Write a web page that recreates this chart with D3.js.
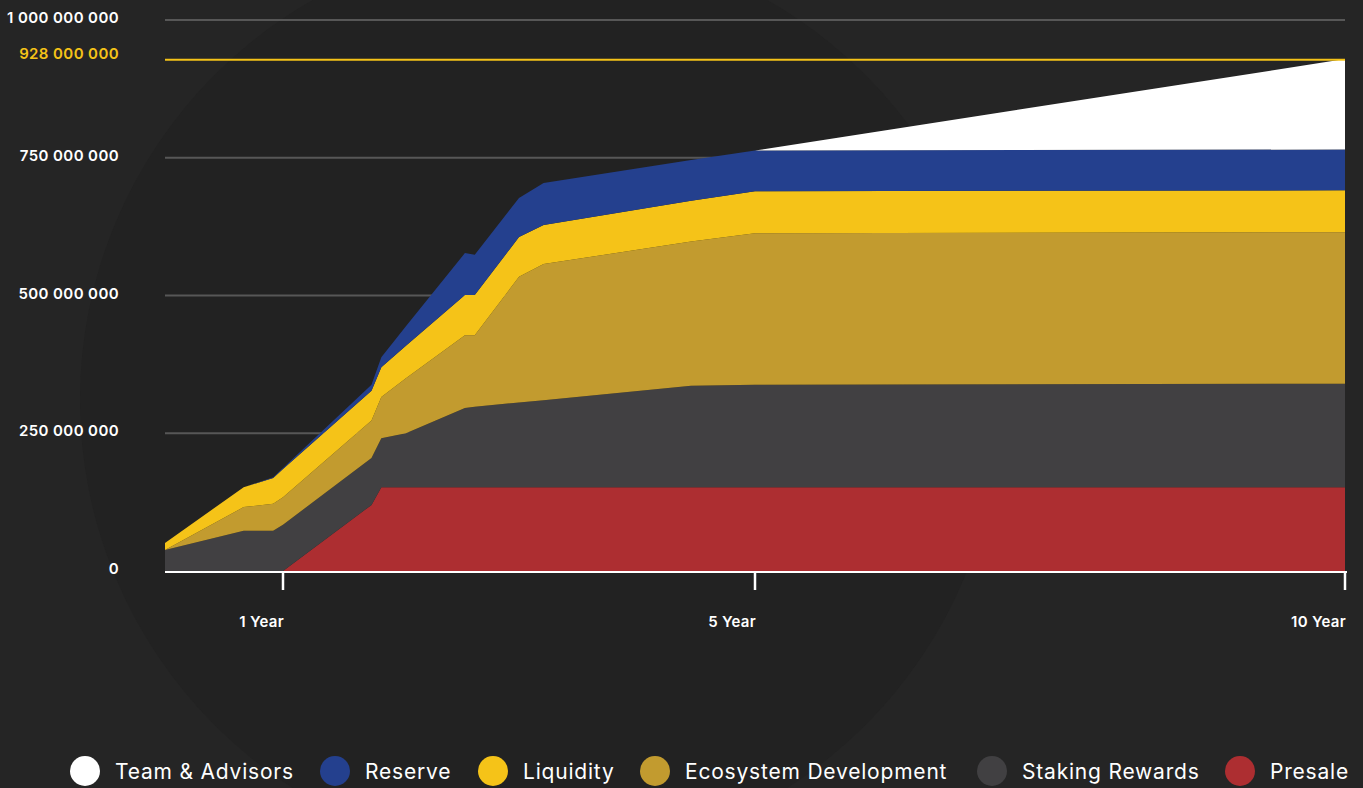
<!DOCTYPE html>
<html>
<head>
<meta charset="utf-8">
<script src="https://cdn.jsdelivr.net/npm/d3@7"></script>
<style>
  html, body { margin:0; padding:0; background:#252525; overflow:hidden; }
  svg { display:block; font-family: "Inter", "Noto Sans", sans-serif; }
</style>
</head>
<body>
<svg id="chart" width="1363" height="788"></svg>
<script>

// months since launch where the vesting curves change slope
var months = [0, 8, 11, 12, 21, 22, 24.5, 30.5, 31.5, 36, 38.5, 53.5, 60, 120];

// unlocked tokens per allocation, millions
var presale   = [0, 0, 0, 0, 120, 152, 152, 152, 152, 152, 152, 152, 152, 152];
var staking   = [38, 73, 73, 84, 85, 89, 98, 144, 146, 154, 158, 184, 186, 188];
var ecosystem = [0, 43, 49, 50, 68, 75, 100, 132, 130, 228, 247, 262, 275, 275];
var liquidity = [13, 36, 47, 51, 54, 54, 59, 73, 73, 72, 71, 74, 76, 76];
var reserve   = [0, 0, 1, 2, 11, 18, 35, 76, 73, 71, 76, 74, 74, 74];
var team      = [0, 0, 0, 0, 0, 0, 0, 0, 0, 0, 0, 0, 0, 164];

var seriesKeys   = ["Presale", "Staking Rewards", "Ecosystem Development", "Liquidity", "Reserve", "Team & Advisors"];
var seriesValues = [presale, staking, ecosystem, liquidity, reserve, team];
var seriesColors = ["#ad2e31", "#414042", "#c29b2f", "#f5c318", "#24408e", "#ffffff"];

var yTicks = [0, 250, 500, 750, 1000];
var maxSupply = 928;
var xTicks = [12, 60, 120];
var xTickLabels = ["1 Year", "5 Year", "10 Year"];

// legend reads top layer first
var legendOrder = ["Team & Advisors", "Reserve", "Liquidity", "Ecosystem Development", "Staking Rewards", "Presale"];

var rows = months.map(function(m, i){
	var r = {month: m};
	seriesKeys.forEach(function(k, j){ r[k] = seriesValues[j][i]; });
	return r;
});

var svg = d3.select("#chart");
var W = 1363, H = 788;

// faint background disc
var bg = svg.append("g");
bg.append("rect").attr("width", W).attr("height", H).attr("fill", "#252525");
bg.append("circle").attr("cx", 540).attr("cy", 400).attr("r", 460).attr("fill", "#222222");

var x = d3.scaleLinear().domain([0, 120]).range([165, 1345]);
var y = d3.scaleLinear().domain([0, 1000]).range([571, 20]);
var fmt = function(v){ return d3.format(",")(v * 1e6).replace(/,/g, " "); };

// gridlines
svg.append("g")
	.selectAll("line")
	.data(yTicks.filter(function(d){ return d > 0; }))
	.enter()
	.append("line")
	.attr("x1", x(0)).attr("x2", x(120))
	.attr("y1", function(d){ return y(d); })
	.attr("y2", function(d){ return y(d); })
	.attr("stroke", "#575757")
	.attr("stroke-width", 2);

var stack = d3.stack().keys(seriesKeys);
var layers = stack(rows);

var area = d3.area()
	.x(function(d){ return x(d.data.month); })
	.y0(function(d){ return y(d[0]); })
	.y1(function(d){ return y(d[1]); });

svg.append("g")
	.selectAll("path")
	.data(layers)
	.enter()
	.append("path")
	.attr("d", area)
	.attr("fill", function(d, i){ return seriesColors[i]; });

// max supply line
svg.append("line")
	.attr("x1", x(0)).attr("x2", x(120))
	.attr("y1", y(maxSupply)).attr("y2", y(maxSupply))
	.attr("stroke", "#f5c318")
	.attr("stroke-width", 2);

// y labels
var yLabels = svg.append("g")
	.attr("font-size", 15)
	.attr("font-weight", 600)
	.attr("letter-spacing", 0.4)
	.attr("text-anchor", "end");

yLabels.selectAll("text")
	.data(yTicks)
	.enter()
	.append("text")
	.attr("x", 119)
	.attr("y", function(d){ return y(d) + 3; })
	.attr("fill", "#ffffff")
	.text(function(d){ return fmt(d); });

yLabels.append("text")
	.attr("x", 119)
	.attr("y", y(maxSupply) - 1)
	.attr("fill", "#f5c318")
	.text(fmt(maxSupply));

// x axis
var xAxis = svg.append("g");
xAxis.append("line")
	.attr("x1", x(0)).attr("x2", x(120) + 2)
	.attr("y1", 572).attr("y2", 572)
	.attr("stroke", "#ffffff").attr("stroke-width", 2);

xAxis.selectAll(".tick")
	.data(xTicks)
	.enter()
	.append("line")
	.attr("x1", function(d){ return x(d); })
	.attr("x2", function(d){ return x(d); })
	.attr("y1", 572).attr("y2", 590)
	.attr("stroke", "#ffffff").attr("stroke-width", 2.5);

xAxis.selectAll("text")
	.data(xTicks)
	.enter()
	.append("text")
	.attr("x", function(d){ return x(d) + 1; })
	.attr("y", 627)
	.attr("text-anchor", "end")
	.attr("font-size", 15)
	.attr("font-weight", 600)
	.attr("letter-spacing", 0.3)
	.attr("fill", "#ffffff")
	.text(function(d, i){ return xTickLabels[i]; });

// legend
var legendX = [85, 335, 493, 655, 992, 1240];
var legend = svg.append("g")
	.selectAll("g")
	.data(legendOrder)
	.enter()
	.append("g")
	.attr("transform", function(d, i){ return "translate(" + legendX[i] + ",771)"; });

legend.append("circle")
	.attr("r", 15)
	.attr("fill", function(d){ return seriesColors[seriesKeys.indexOf(d)]; });

legend.append("text")
	.attr("x", 30)
	.attr("y", 8)
	.attr("font-size", 21)
	.attr("letter-spacing", 0.8)
	.attr("fill", "#ffffff")
	.text(function(d){ return d; });

</script>
</body>
</html>
